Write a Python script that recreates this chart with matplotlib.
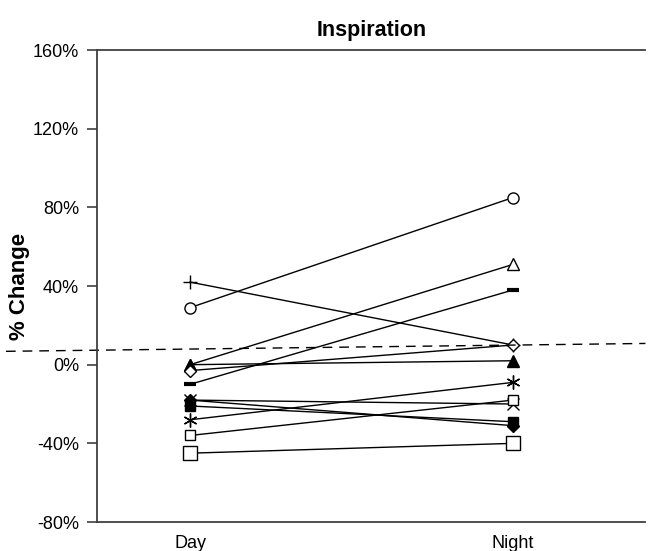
import matplotlib
matplotlib.use("Agg")
import matplotlib.pyplot as plt
from matplotlib.ticker import FuncFormatter

plt.rcParams["font.family"] = ["Liberation Sans", "DejaVu Sans"]

# data (% change)
periods = ["Day", "Night"]
subjects = ["circle", "plus", "tri_open", "tri_fill", "dia_open", "dash",
            "asterisk", "cross", "dia_fill", "sq_fill", "sq_small", "sq_big"]
day_values = [29, 42, 0, 0, -3, -10, -28, -18, -18, -21, -36, -45]
night_values = [85, 10, 51, 2, 10, 38, -9, -20, -31, -29, -18, -40]
trend_x = [0.43, 2.41]
trend_y = [6.8, 10.8]
y_ticks = [-80, -40, 0, 40, 80, 120, 160]

# marker style per subject: (marker, size, filled)
styles = {
    "circle": ("o", 8, False),
    "plus": ("+", 10, False),
    "tri_open": ("^", 8, False),
    "tri_fill": ("^", 8, True),
    "dia_open": ("D", 6, False),
    "dash": ("_", 8, True),
    "asterisk": ((6, 2, 0), 10, False),
    "cross": ("x", 8, False),
    "dia_fill": ("D", 6, True),
    "sq_fill": ("s", 7, True),
    "sq_small": ("s", 7, False),
    "sq_big": ("s", 10, False),
}

fig = plt.figure(figsize=(6.49, 5.51), dpi=100)
ax = fig.add_axes([0.1495, 0.0526, 0.845, 0.8566])

xs = [1, 2]
for name, d, n in zip(subjects, day_values, night_values):
    marker, size, filled = styles[name]
    ax.plot(xs, [d, n], color="black", lw=1.0, marker=marker, ms=size,
            mfc="black" if filled else "white", mec="black",
            mew=3 if name == "dash" else 1.0)

ax.plot(trend_x, trend_y, color="black", lw=1.0, ls=(0, (7, 5)), clip_on=False)

ax.set_xlim(0.712, 2.41)
ax.set_ylim(-80, 160)
ax.set_xticks(xs)
ax.set_xticklabels(periods)
ax.set_yticks(y_ticks)
ax.yaxis.set_major_formatter(FuncFormatter(lambda v, p: f"{v:.0f}%"))
ax.tick_params(axis="y", direction="out", length=7, width=1.2, color="#404040",
               labelsize=13, pad=6)
ax.tick_params(axis="x", length=0, labelsize=13, pad=9)

for side in ["left", "bottom", "top"]:
    ax.spines[side].set_color("#404040")
    ax.spines[side].set_linewidth(1.3)
ax.spines["right"].set_visible(False)

ax.set_ylabel("% Change", fontsize=16, fontweight="bold", labelpad=2)
ax.set_title("Inspiration", fontsize=15.5, fontweight="bold", pad=10)

fig.savefig("out.png", dpi=100)
